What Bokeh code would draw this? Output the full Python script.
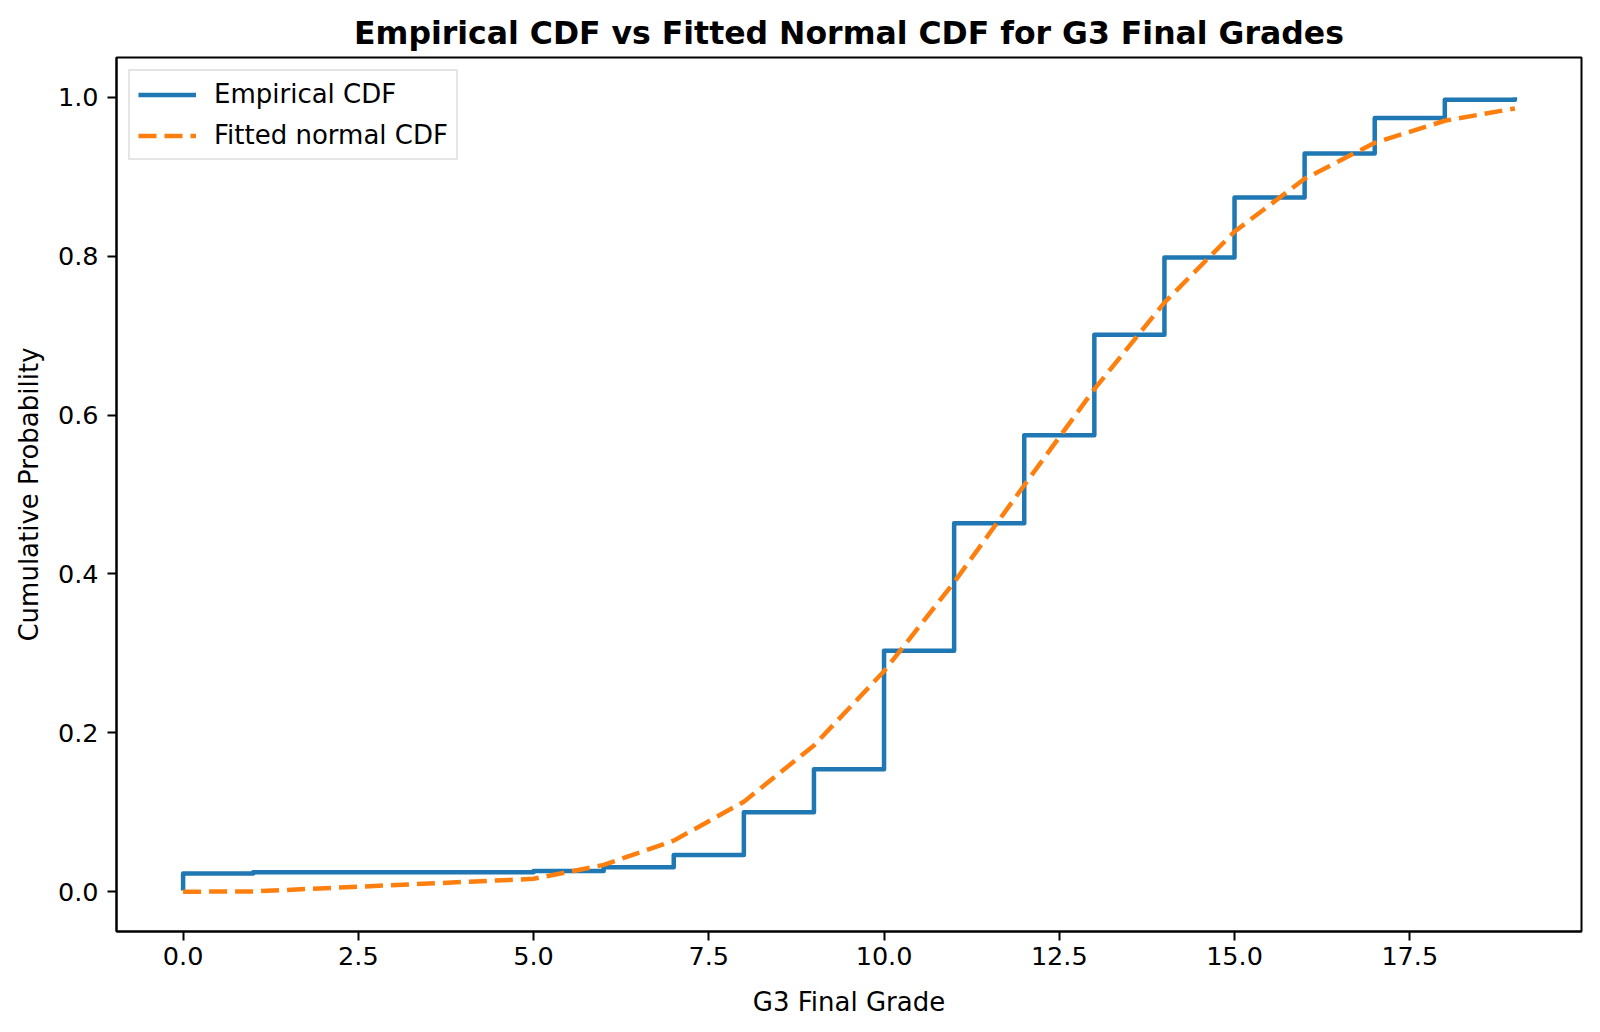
from bokeh.plotting import figure
from bokeh.models import Range1d, FixedTicker, PrintfTickFormatter, Legend, LegendItem
from bokeh.embed import file_html
from bokeh.resources import INLINE

# ---- data ----
grades = [0, 1, 5, 6, 7, 8, 9, 10, 11, 12, 13, 14, 15, 16, 17, 18, 19]
ecdf = [0.0231, 0.0247, 0.0262, 0.0308, 0.0462, 0.1002, 0.1541, 0.3035, 0.4638,
        0.5747, 0.7011, 0.7982, 0.8737, 0.9291, 0.9738, 0.9969, 1.0]
ecdf_first = 0.0015
fitted_cdf = [0.0001, 0.0004, 0.0163, 0.0338, 0.0644, 0.1133, 0.1842, 0.2776, 0.3896,
              0.5116, 0.6326, 0.7415, 0.8309, 0.8974, 0.9426, 0.9704, 0.9859]
x_ticks = [0, 2.5, 5, 7.5, 10, 12.5, 15, 17.5]
y_ticks = [0.0, 0.2, 0.4, 0.6, 0.8, 1.0]

FONT = "DejaVu Sans"

p = figure(width=1600, height=1032, output_backend="svg", toolbar_location=None,
           x_range=Range1d(-0.95, 19.95), y_range=Range1d(-0.05, 1.05),
           min_border_left=116, min_border_right=19, min_border_top=57,
           min_border_bottom=101, background_fill_color="white",
           border_fill_color="white")

p.title.text = "Empirical CDF vs Fitted Normal CDF for G3 Final Grades"
p.title.text_font = FONT
p.title.text_font_size = "31.5px"
p.title.text_font_style = "bold"
p.title.align = "center"
p.title.text_color = "black"
p.title.standoff = 13

p.xgrid.visible = False
p.ygrid.visible = False
p.outline_line_color = "black"
p.outline_line_width = 2

for ax in (p.xaxis[0], p.yaxis[0]):
    ax.axis_line_width = 2
    ax.axis_line_color = "black"
    ax.major_tick_line_width = 2
    ax.major_tick_line_color = "black"
    ax.major_tick_out = 9
    ax.major_tick_in = 0
    ax.minor_tick_out = 0
    ax.minor_tick_in = 0
    ax.major_label_text_font = FONT
    ax.major_label_text_font_size = "25.5px"
    ax.major_label_text_color = "black"
    ax.axis_label_text_font = FONT
    ax.axis_label_text_font_size = "26px"
    ax.axis_label_text_font_style = "normal"
    ax.axis_label_text_color = "black"
    ax.formatter = PrintfTickFormatter(format="%.1f")

p.xaxis.ticker = FixedTicker(ticks=x_ticks)
p.yaxis.ticker = FixedTicker(ticks=y_ticks)
p.xaxis.axis_label = "G3 Final Grade"
p.yaxis.axis_label = "Cumulative Probability"
p.xaxis.major_label_standoff = 6
p.yaxis.major_label_standoff = 9
p.xaxis.axis_label_standoff = 19
p.yaxis.axis_label_standoff = 11

r1 = p.step(x=[0] + grades, y=[ecdf_first] + ecdf, mode="after",
            line_color="#1f77b4", line_width=4.5, line_join="round")
r2 = p.line(x=grades, y=fitted_cdf, line_color="#ff7f0e", line_width=4.5,
            line_dash="18 8")

legend = Legend(items=[LegendItem(label="Empirical CDF", renderers=[r1]),
                       LegendItem(label="Fitted normal CDF", renderers=[r2])],
                location="top_left", margin=12, padding=8, spacing=11,
                glyph_width=58, glyph_height=29, label_height=29,
                label_standoff=18, label_text_font=FONT,
                label_text_font_size="26px", label_text_color="black",
                border_line_color="#cccccc", border_line_width=2.5,
                background_fill_color="white", background_fill_alpha=0.8)
p.add_layout(legend)

open("out.html", "w").write(file_html(p, INLINE))
